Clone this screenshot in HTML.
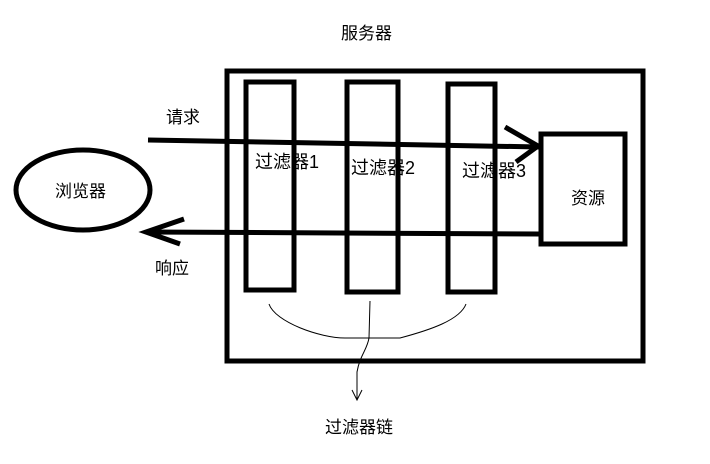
<!DOCTYPE html>
<html><head><meta charset="utf-8"><style>
body{margin:0;background:#fff}
text{font-family:"Liberation Sans","Noto Sans CJK SC",sans-serif;font-size:17px;fill:#000}
.f{font-size:18px}
</style></head><body>
<svg width="710" height="459" viewBox="0 0 710 459" xmlns="http://www.w3.org/2000/svg">
<g fill="none" stroke="#000" stroke-width="5">
<rect x="227" y="71" width="416" height="290"/>
<rect x="246" y="82" width="48" height="208"/>
<rect x="347" y="82" width="51" height="210"/>
<rect x="448" y="84" width="47" height="208"/>
<rect x="541" y="134" width="84" height="110"/>
<ellipse cx="83" cy="190" rx="67" ry="40"/>
<path d="M148 140 L540 147"/>
<path d="M505 127 L538 146 L516 162"/>
<path d="M540 234 L146 232"/>
<path d="M184 219 L146 232 L180 244"/>
</g>
<g fill="none" stroke="#000" stroke-width="1">
<path d="M269 304 C275 322 320 338 345 338 L400 338 C430 330 460 320 466 304"/>
<path d="M370 301 L369 338 C367 350 360 355 357 372 L357 400"/>
<path d="M352 390 L357 400 L362 390"/>
</g>
<text x="341" y="39">服务器</text>
<text x="166" y="123">请求</text>
<text x="155" y="274">响应</text>
<text x="55" y="197">浏览器</text>
<text class="f" x="255" y="168">过滤器1</text>
<text class="f" x="351" y="174">过滤器2</text>
<text class="f" x="462" y="177">过滤器3</text>
<text x="571" y="204">资源</text>
<text x="325" y="433">过滤器链</text>
</svg>
</body></html>
